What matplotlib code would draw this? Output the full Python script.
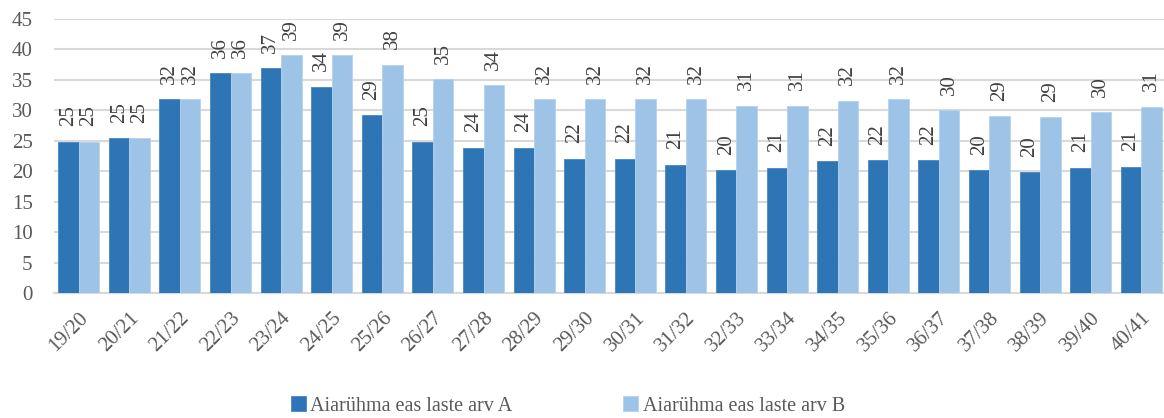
import matplotlib.pyplot as plt
import numpy as np

plt.rcParams['font.family'] = ['Liberation Serif', 'DejaVu Serif']

# andmed (loetud jooniselt)
years = ["19/20", "20/21", "21/22", "22/23", "23/24", "24/25", "25/26", "26/27",
         "27/28", "28/29", "29/30", "30/31", "31/32", "32/33", "33/34", "34/35",
         "35/36", "36/37", "37/38", "38/39", "39/40", "40/41"]
group_a = [24.9, 25.4, 31.9, 36.1, 36.9, 33.9, 29.2, 24.9, 23.9, 23.9, 22.1, 22.1,
           21.1, 20.2, 20.6, 21.7, 21.9, 21.9, 20.2, 19.9, 20.6, 20.8]
group_b = [24.9, 25.4, 31.9, 36.1, 39.1, 39.1, 37.5, 35.1, 34.1, 31.9, 31.9, 31.9,
           31.9, 30.8, 30.8, 31.6, 31.9, 30.1, 29.1, 28.9, 29.7, 30.6]
legend_labels = ["Aiarühma eas laste arv A", "Aiarühma eas laste arv B"]

color_a = "#2E75B6"
color_b = "#9DC3E6"
text_gray = "#595959"

fig = plt.figure(figsize=(11.64, 4.18), dpi=100)
ax = fig.add_axes([53.5 / 1164, 1 - 293.3 / 418, (1166.5 - 53.5) / 1164, (293.3 - 19) / 418])

x = np.arange(len(years))
w = 0.405
bars_a = ax.bar(x - w / 2, group_a, w, color=color_a, edgecolor="#4a86c0", linewidth=0.6,
                label=legend_labels[0], zorder=3)
bars_b = ax.bar(x + w / 2, group_b, w, color=color_b, edgecolor="#b4d2ee", linewidth=0.6,
                label=legend_labels[1], zorder=3)

for bars in (bars_a, bars_b):
    for b in bars:
        h = b.get_height()
        ax.annotate(f"{h:.0f}", (b.get_x() + b.get_width() / 2, h),
                    xytext=(0, 11), textcoords="offset points",
                    rotation=90, ha="center", va="bottom",
                    fontsize=15, color="#404040")

ax.set_xlim(-0.5, len(years) - 0.5)
ax.set_ylim(0, 45)
ax.set_yticks(range(0, 46, 5))
ax.yaxis.grid(True, color="#d9d9d9", linewidth=1.5, zorder=0)
ax.set_axisbelow(True)
for s in ("top", "right", "left"):
    ax.spines[s].set_visible(False)
ax.spines["bottom"].set_color("#d9d9d9")
ax.spines["bottom"].set_linewidth(1.5)
ax.tick_params(axis="both", length=0, labelsize=15, labelcolor=text_gray)
ax.tick_params(axis="y", pad=15)
ax.tick_params(axis="x", pad=11)
ax.set_xticks(x)
ax.set_xticklabels(years, rotation=45, ha="right", rotation_mode="anchor")

fig.legend(handles=[bars_a, bars_b], labels=legend_labels, loc="center",
           bbox_to_anchor=(568 / 1164, 1 - 406 / 418), ncol=2, frameon=False,
           fontsize=14.5, labelcolor=text_gray, handlelength=0.75, handleheight=0.75,
           handletextpad=0.2, columnspacing=5.5)

fig.savefig("out.png", dpi=100)
